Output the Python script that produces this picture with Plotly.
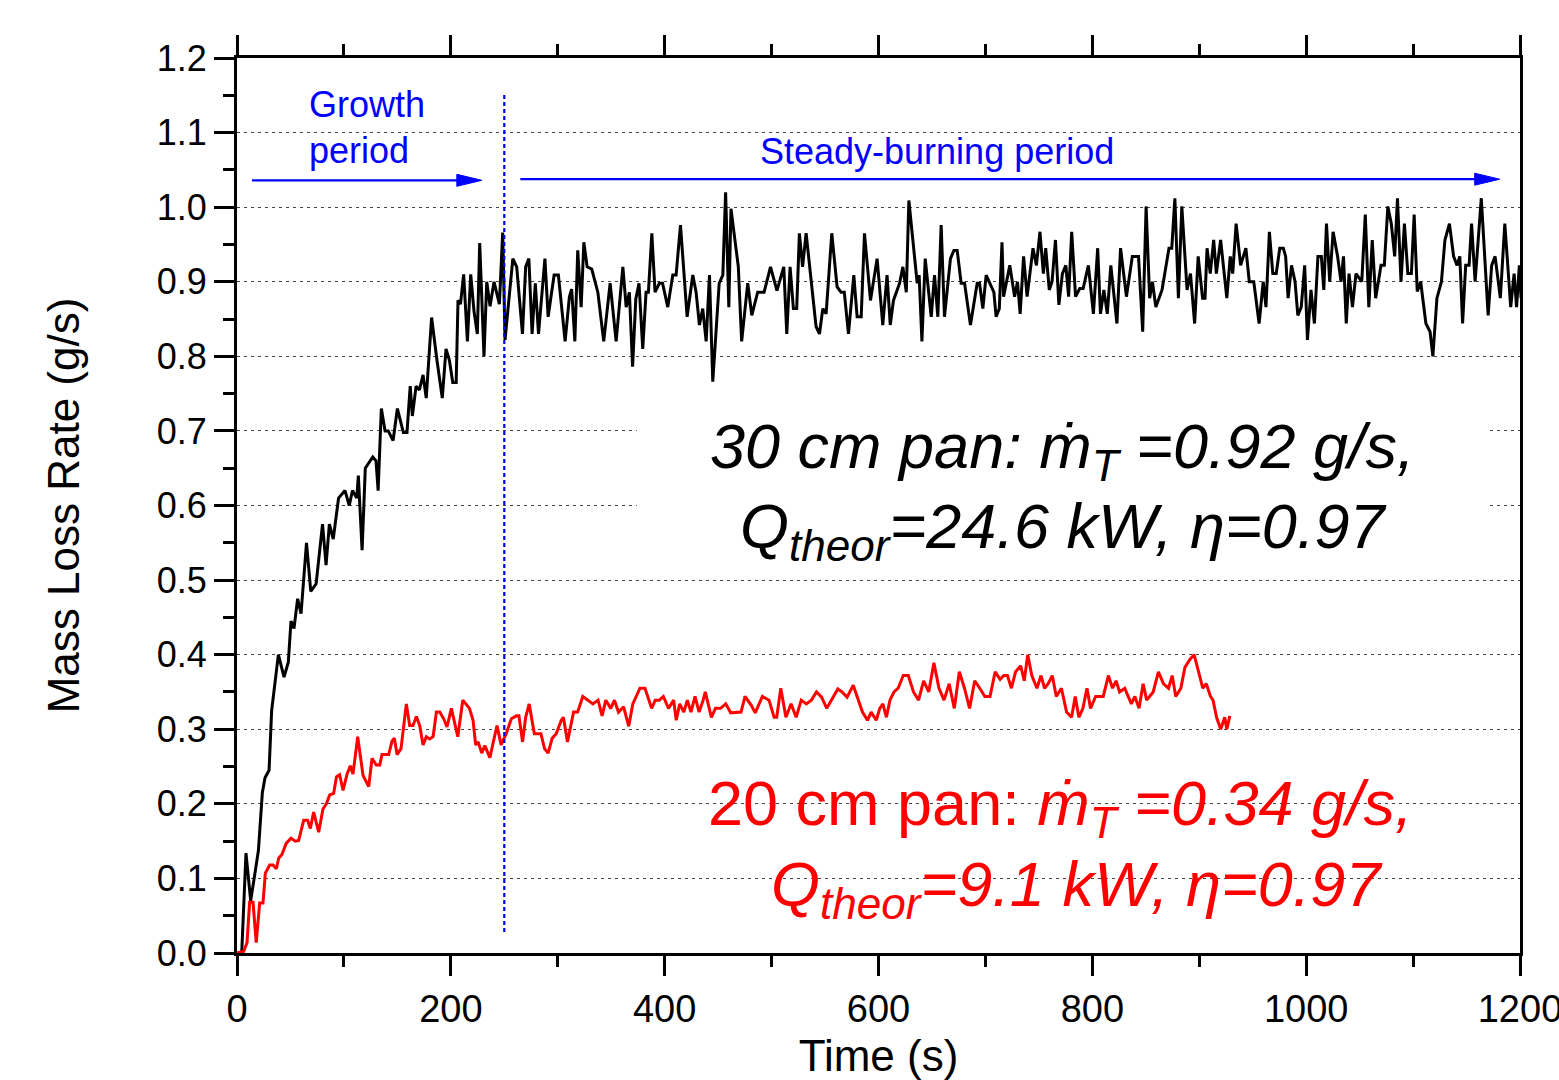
import plotly.graph_objects as go

# ---------------- data ----------------
time_30cm = [
    0, 4.4, 8.4, 12.8, 20, 23.7, 26.2, 30, 32.4, 38.7, 44, 48, 50.5, 53.3, 56.7, 59.9,
    65, 69, 74, 80, 83.3, 86.4, 90, 95, 101, 105, 108, 112, 113.5, 117, 120, 127, 130,
    132, 135, 138.5, 141.5, 146, 150, 155.6, 159, 162, 164, 167.5, 170.6, 174, 177, 182,
    187, 192, 195.5, 198.6, 201.8, 205, 206.7, 209, 212, 215.5, 218.6, 221.7, 224.8, 227,
    231, 233.6, 236.7, 240.4, 245.4, 248.5,
    250.7, 258, 261.6, 267, 270, 273, 276, 279, 282, 288, 291, 296.6, 300.6, 306.9, 310.9,
    313, 316, 318.7, 321.9, 324.4, 327.5, 331.8, 337.5, 343, 349, 354.6, 360.9, 364, 367,
    370, 373, 376, 379.5, 382.6, 384.8, 388, 391, 395, 398, 402.9, 407.6, 410.7, 414.8,
    421, 426.3, 429.4, 432.5, 435.6, 438.8, 441.9, 445, 451, 454.4, 457, 460, 462, 468.9,
    472, 477.7, 481.5, 487, 493, 499, 505, 511.4, 514.2, 517.3, 520.4, 523.5, 526, 529,
    532.3, 541.6, 544.8, 547.9, 551, 556.3, 561.3, 565, 568, 571.9, 576.9, 580, 583.8,
    586.9, 592.5, 598.7, 604, 608, 611, 614, 619.7, 622.8, 626, 628.4, 636.2, 638, 640.6,
    643.7, 649.3, 652.4, 655.5, 658.6, 661.7, 667.3, 670.5, 673.6, 677.3, 680.5, 686,
    692.3, 694.5, 697.6, 700.7, 707.9, 710, 713, 715.5,
    717, 722.8, 727.3, 730, 732.5, 735.7, 739, 744.5, 747.7, 751, 754.2, 756.4, 759.7,
    762.3, 765.5, 768.7, 772, 775.2, 777.8, 780.7, 784.3, 788.2, 791.4, 796.3, 801, 805,
    807.6, 810.8, 814, 817.3, 823, 826.4, 831.9, 837.4, 843.2, 847.1, 850.3, 853.6, 856.2,
    859.4, 865.2, 871.7, 874.3, 877.2, 880.5, 883.7, 888.6, 891.8, 895.7, 899, 903.1,
    905.4, 907.3, 910.3, 913.5, 916, 920, 925.8, 929, 931.3, 934.5, 938.7, 943.6, 946.8,
    951, 956, 959.8, 962.4, 965.6, 968.8, 972, 975.3, 978.6, 980.8, 983.1, 986.3, 989.6,
    992.2, 995.4, 998.6, 1001.2, 1004.5, 1007.7, 1011, 1014.2, 1016.5, 1019, 1022, 1025.2,
    1029.4, 1032.6, 1034.9, 1037.5, 1040.1, 1043.3, 1046.6, 1052, 1055.3, 1058.6, 1061.8,
    1065, 1070, 1073.1, 1076.4, 1079.6, 1082.8, 1085.4, 1088.7, 1091.9, 1095.1, 1098.4,
    1101, 1103.9, 1107.1, 1112, 1115.9, 1118.5, 1122.3, 1126.5, 1129.8, 1134, 1137.9,
    1141.1, 1143.7, 1146.3, 1149.2, 1152.4, 1154.7, 1158, 1163.8, 1170.2, 1173.5, 1176.7,
    1181.6, 1185.8, 1191.3, 1194.5, 1196.8, 1199.4, 1201,
]
mlr_30cm = [
    0, 0, 0.134, 0.07, 0.137, 0.215, 0.235, 0.245, 0.325, 0.40, 0.37, 0.39, 0.445, 0.435,
    0.475, 0.455, 0.55, 0.485, 0.495, 0.575, 0.52, 0.575, 0.555, 0.61, 0.62, 0.60, 0.62,
    0.61, 0.64, 0.54, 0.65, 0.665, 0.66, 0.62, 0.73, 0.70, 0.70, 0.687, 0.73, 0.698, 0.698,
    0.76, 0.72, 0.76, 0.755, 0.775, 0.744, 0.852, 0.795, 0.744, 0.81, 0.795, 0.765, 0.765,
    0.875, 0.87, 0.91, 0.82, 0.91, 0.86, 0.83, 0.952, 0.80, 0.90, 0.867, 0.90, 0.87, 0.966,
    0.822, 0.931, 0.92, 0.83, 0.92, 0.931, 0.83, 0.898, 0.83, 0.931, 0.853, 0.909, 0.909,
    0.82, 0.88, 0.89, 0.82, 0.942, 0.866, 0.953, 0.92, 0.917, 0.886, 0.82, 0.898, 0.82,
    0.92, 0.866, 0.886, 0.786, 0.877, 0.898, 0.81, 0.886, 0.886, 0.965, 0.886, 0.898,
    0.898, 0.866, 0.909, 0.909, 0.976, 0.853, 0.909, 0.886, 0.842, 0.864, 0.82, 0.909,
    0.766, 0.898, 0.909, 1.02, 0.866, 0.998, 0.92, 0.82, 0.898, 0.855, 0.886, 0.886, 0.92,
    0.888, 0.92, 0.83, 0.92, 0.864, 0.864, 0.965, 0.92, 0.965, 0.84, 0.83, 0.864, 0.857,
    0.965, 0.893, 0.886, 0.886, 0.83, 0.909, 0.853, 0.853, 0.965, 0.875, 0.931, 0.842,
    0.909, 0.842, 0.875, 0.898, 0.92, 0.886, 1.009, 0.898, 0.909, 0.82, 0.931, 0.853,
    0.909, 0.853, 0.976, 0.853, 0.931, 0.942, 0.942, 0.898, 0.898, 0.842, 0.898, 0.898,
    0.864, 0.909, 0.886, 0.853, 0.864, 0.953,
    0.88, 0.922, 0.88, 0.90, 0.857, 0.934, 0.88, 0.945, 0.922, 0.967, 0.911, 0.945, 0.889,
    0.90, 0.956, 0.869, 0.911, 0.922, 0.88, 0.967, 0.88, 0.891, 0.891, 0.922, 0.857, 0.945,
    0.857, 0.889, 0.857, 0.922, 0.844, 0.945, 0.88, 0.934, 0.934, 0.833, 1.001, 0.878, 0.90,
    0.866, 0.889, 0.945, 0.945, 1.012, 0.878, 1.001, 0.889, 0.911, 0.844, 0.934, 0.878,
    0.878, 0.945, 0.911, 0.956, 0.911, 0.956, 0.878, 0.934, 0.911, 0.978, 0.922, 0.945,
    0.90, 0.90, 0.844, 0.90, 0.866, 0.967, 0.911, 0.911, 0.945, 0.945, 0.934, 0.878, 0.922,
    0.90, 0.855, 0.866, 0.922, 0.822, 0.889, 0.844, 0.934, 0.934, 0.889, 0.978, 0.90, 0.967,
    0.934, 0.90, 0.934, 0.844, 0.911, 0.866, 0.911, 0.90, 0.99, 0.866, 0.956, 0.878, 0.922,
    0.922, 1.001, 0.978, 0.934, 1.012, 0.90, 0.978, 0.911, 0.911, 0.99, 0.887, 0.90, 0.844,
    0.833, 0.80, 0.878, 0.90, 0.956, 0.978, 0.934, 0.922, 0.934, 0.844, 0.922, 0.922, 0.978,
    0.90, 1.012, 0.855, 0.922, 0.934, 0.878, 0.978, 0.866, 0.911, 0.866, 0.922, 0.878,
]

time_20cm = [
    0, 6.2, 9.4, 11.8, 15, 18, 21.2, 24.3, 26.5, 30.6, 33.7, 36.8, 39, 42, 46, 50.5, 54.6,
    57.7, 62.4, 66, 68.6, 71.7, 76.4, 80.4, 83.6, 86.7, 90.4, 93, 96, 99.2, 103, 106, 108.5,
    112.9, 117.9, 123.2, 126.3, 130.3, 133.5, 135.6, 141.9, 145, 147.2, 149.7, 153.4, 158.4,
    161.5, 164.6, 167.8, 170.9, 174, 177.1, 180.2, 183.4, 186.5, 189.6, 193.3, 196.4, 200.5,
    206.5, 211.2, 217.4, 220.8, 223.2, 225.6, 228.9, 231.8, 236.5, 243.2, 247, 251.8, 256.6,
    261.4, 263.7, 267.1, 270, 273.3, 278.1, 284.3, 287.6, 291, 294.8, 298.6, 303.3, 305.3,
    309.1, 314.8, 318.6, 323.4, 328.2, 332.9, 337.7, 341.5, 344.9, 349.6, 353, 356.8, 361.6,
    366.4, 370.2, 376.9, 381.6, 387.8, 391.2, 395, 398.8, 403.6, 408.4, 410.8, 414.1, 417.9,
    421.2, 424.6, 428.4, 432.2, 436, 438, 443.7, 447.5, 452.3, 457.1, 461.8, 466.6, 471.4,
    475.2, 481, 484.7, 491.4, 497.6, 502.4, 504.8, 508.6, 513.4, 518.2, 523, 527.7, 532.5,
    537.2, 542, 546.8, 551.6, 556.3, 562, 565.9, 570.6, 576.4, 581.1, 585, 589.7, 593.1,
    597.9, 601.2, 604.1, 607.4, 610.7, 614.5, 618.4, 623.1, 627.9, 632.7, 637.5, 642.2, 647,
    651.8, 656.6, 661.3, 666.1, 670.9, 675.6, 680.4, 685.2, 690, 694.7, 699.5, 704.3, 709.1,
    713.8, 717.2, 720.6, 724.3, 728.2, 733, 736.3, 739.6, 743.4, 748.2, 752, 755.3, 758.7,
    762.5, 766.3, 771.1, 775.9, 780.6, 784, 787.4, 791.2, 795, 798.3, 803.1, 810.2, 815,
    818.9, 822.2, 825.5, 830.3, 836.5, 839.8, 843.7, 847.5, 850.8, 856.9, 861.8, 866.6,
    871.3, 874.7, 878, 882.8, 886.6, 891.4, 895.2, 900, 903.3, 906.6, 910.5, 912.9, 916.2,
    920.1, 923.8, 925.8, 928.6,
]
mlr_20cm = [
    0, 0.002, 0.014, 0.068, 0.068, 0.014, 0.067, 0.067, 0.107, 0.118, 0.118, 0.113, 0.127,
    0.132, 0.147, 0.154, 0.15, 0.151, 0.178, 0.178, 0.167, 0.189, 0.162, 0.193, 0.20, 0.212,
    0.214, 0.236, 0.239, 0.218, 0.24, 0.251, 0.24, 0.29, 0.238, 0.223, 0.261, 0.252, 0.252,
    0.266, 0.266, 0.284, 0.288, 0.266, 0.274, 0.334, 0.305, 0.305, 0.317, 0.305, 0.279,
    0.29, 0.287, 0.29, 0.323, 0.323, 0.314, 0.303, 0.328,
    0.29, 0.339, 0.328, 0.312, 0.279, 0.283, 0.268, 0.278, 0.262, 0.305, 0.279, 0.294,
    0.314, 0.318, 0.318, 0.283, 0.316, 0.334, 0.294, 0.294, 0.274, 0.268, 0.288, 0.294,
    0.312, 0.316, 0.283, 0.323, 0.323, 0.344, 0.339, 0.334, 0.339, 0.318, 0.339, 0.328,
    0.339, 0.323, 0.33, 0.304, 0.334, 0.355, 0.355, 0.328, 0.339, 0.339, 0.344, 0.328,
    0.339, 0.312, 0.334, 0.323, 0.339, 0.323, 0.344, 0.323, 0.339, 0.35, 0.316, 0.328,
    0.328, 0.334, 0.322, 0.323, 0.323, 0.344, 0.332, 0.322, 0.344, 0.339, 0.316, 0.316,
    0.355, 0.316, 0.334, 0.316, 0.339, 0.334, 0.339, 0.35, 0.343, 0.328, 0.339, 0.354,
    0.35, 0.343, 0.359, 0.339, 0.323, 0.312, 0.323, 0.312, 0.328, 0.334, 0.316, 0.339,
    0.35, 0.355, 0.372, 0.372, 0.35, 0.339, 0.365, 0.35, 0.389, 0.355, 0.339, 0.361, 0.328,
    0.377, 0.355, 0.328, 0.365, 0.355, 0.344, 0.344, 0.377, 0.367, 0.372, 0.372, 0.355,
    0.377, 0.385, 0.365, 0.40, 0.372, 0.355, 0.372, 0.355, 0.361, 0.372, 0.344, 0.355,
    0.323, 0.316, 0.344, 0.316, 0.328, 0.355, 0.328, 0.344, 0.344, 0.372, 0.355, 0.365,
    0.35, 0.355, 0.334, 0.344, 0.328, 0.361, 0.339, 0.35, 0.377, 0.361, 0.355, 0.372,
    0.344, 0.355, 0.383, 0.394, 0.40, 0.372, 0.355, 0.361, 0.344, 0.339, 0.316, 0.30,
    0.316, 0.30, 0.318,
]

x_ticks = [0, 200, 400, 600, 800, 1000, 1200]
y_ticks = [0.0, 0.1, 0.2, 0.3, 0.4, 0.5, 0.6, 0.7, 0.8, 0.9, 1.0, 1.1, 1.2]

growth_end = 250          # boundary between growth and steady burning (s)
growth_arrow = (14, 229, 1.036)
steady_arrow = (265, 1181, 1.0375)

FONT = "Liberation Sans, Arial, sans-serif"
BLUE = "#0000ff"
RED = "#ff0000"

fig = go.Figure()
fig.add_trace(go.Scatter(x=time_30cm, y=mlr_30cm, mode="lines",
                         line=dict(color="black", width=3), name="30 cm pan",
                         showlegend=False))
fig.add_trace(go.Scatter(x=time_20cm, y=mlr_20cm, mode="lines",
                         line=dict(color=RED, width=3), name="20 cm pan",
                         showlegend=False))

shapes = []
# white box behind the black annotation (hides gridlines, not data)
shapes.append(dict(type="rect", xref="x", yref="y", x0=374, x1=1169, y0=0.515, y1=0.745,
                   fillcolor="white", line=dict(width=0), layer="between"))
# dashed divider
shapes.append(dict(type="line", xref="x", yref="y", x0=growth_end, x1=growth_end,
                   y0=0.028, y1=1.154, line=dict(color=BLUE, width=2.2, dash="4px,3px")))
# arrows (shaft + head)
for (xa, xb, yv) in (growth_arrow, steady_arrow):
    shapes.append(dict(type="line", xref="x", yref="y", x0=xa, x1=xb - 10, y0=yv, y1=yv,
                       line=dict(color=BLUE, width=2.2)))
    shapes.append(dict(type="path", xref="x", yref="y", xsizemode="pixel",
                       ysizemode="pixel", xanchor=xb, yanchor=yv,
                       path="M -25 -6 L 0 0 L -25 6 Z", fillcolor=BLUE,
                       line=dict(color=BLUE, width=1)))

annotations = [
    dict(x=65.5, y=1.138, text="Growth", xanchor="left", yanchor="middle",
         font=dict(family=FONT, size=36, color=BLUE)),
    dict(x=65.5, y=1.076, text="period", xanchor="left", yanchor="middle",
         font=dict(family=FONT, size=36, color=BLUE)),
    dict(x=655, y=1.075, text="Steady-burning period", xanchor="center", yanchor="middle",
         font=dict(family=FONT, size=36, color=BLUE)),
    dict(x=772, y=0.674, text="<i>30 cm pan: ṁ<sub>T</sub> =0.92 g/s,</i>",
         xanchor="center", yanchor="middle", font=dict(family=FONT, size=63, color="black")),
    dict(x=773, y=0.567, text="<i>Q<sub>theor</sub>=24.6 kW, η=0.97</i>",
         xanchor="center", yanchor="middle", font=dict(family=FONT, size=63, color="black")),
    dict(x=770, y=0.195, text="20 cm pan: <i>ṁ<sub>T</sub> =0.34 g/s,</i>",
         xanchor="center", yanchor="middle", font=dict(family=FONT, size=63, color=RED)),
    dict(x=785, y=0.087, text="<i>Q<sub>theor</sub>=9.1 kW, η=0.97</i>",
         xanchor="center", yanchor="middle", font=dict(family=FONT, size=63, color=RED)),
]
for a in annotations:
    a.update(xref="x", yref="y", showarrow=False)

fig.update_layout(
    width=1559, height=1080,
    margin=dict(l=237, r=39, t=58, b=127, autoexpand=False),
    paper_bgcolor="white", plot_bgcolor="white",
    font=dict(family=FONT, color="black"),
    shapes=shapes, annotations=annotations,
    showlegend=False,
)
fig.update_xaxes(
    range=[0, 1200], tickvals=x_ticks, ticktext=[str(v) for v in x_ticks],
    ticks="outside", ticklen=20, tickwidth=2.5, tickcolor="black",
    minor=dict(dtick=100, tick0=0, ticks="outside", ticklen=11, tickwidth=2.5,
               tickcolor="black", showgrid=False),
    showline=True, linecolor="black", linewidth=3, mirror="ticks",
    showgrid=False, zeroline=False, ticklabeloverflow="allow",
    tickfont=dict(family=FONT, size=38, color="black"),
    title=dict(text="Time (s)", font=dict(family=FONT, size=44, color="black"), standoff=40),
    automargin=False,
)
fig.update_yaxes(
    range=[0, 1.2], tickvals=y_ticks, ticktext=[f"{v:.1f}" for v in y_ticks],
    ticks="outside", ticklen=20, tickwidth=2.5, tickcolor="black",
    minor=dict(dtick=0.05, tick0=0, ticks="outside", ticklen=11, tickwidth=2.5,
               tickcolor="black", showgrid=False),
    showline=True, linecolor="black", linewidth=3, mirror=True,
    showgrid=True, gridcolor="#444444", gridwidth=1.2, griddash="3px,4px",
    zeroline=False,
    tickfont=dict(family=FONT, size=36, color="black"),
    title=dict(text="Mass Loss Rate (g/s)", font=dict(family=FONT, size=44, color="black"),
               standoff=64),
    automargin=False,
)

fig.write_html("out.html")
